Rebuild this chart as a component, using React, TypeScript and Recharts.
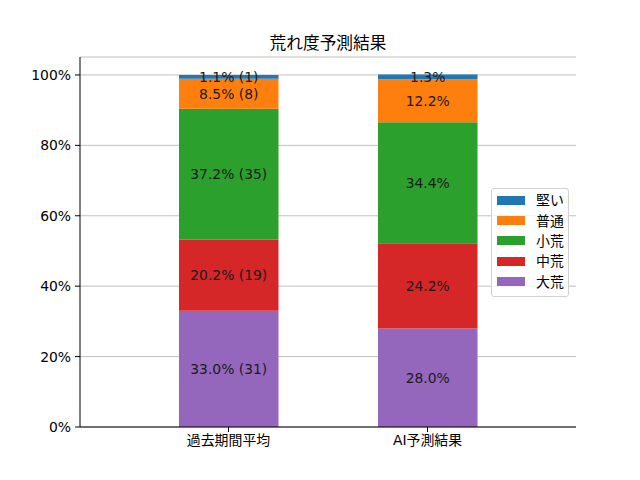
import React from 'react';
import { BarChart, Bar, XAxis, YAxis, CartesianGrid, Legend, LabelList } from 'recharts';

// categories and stacked series (percent), bottom to top
const categories = ['過去期間平均', 'AI予測結果'];
const seriesNames = ['大荒', '中荒', '小荒', '普通', '堅い'];
const seriesColors = ['#9467bd', '#d62728', '#2ca02c', '#ff7f0e', '#1f77b4'];
const ooare = [33.0, 28.0];
const chuare = [20.2, 24.2];
const shoare = [37.2, 34.4];
const futsu = [8.5, 12.2];
const katai = [1.1, 1.3];
// race counts, only shown for the past period
const pastCounts = [31, 19, 35, 8, 1];
const yTicks = [0, 20, 40, 60, 80, 100];

const seriesValues = [ooare, chuare, shoare, futsu, katai];

const data = categories.map((name, i) => {
  const row: Record<string, string | number> = { name };
  seriesNames.forEach((s, k) => {
    row[s] = seriesValues[k][i];
  });
  return row;
});

const FONT = '"DejaVu Sans", "Noto Sans CJK JP", sans-serif';

const makeLabel = (seriesIdx: number) => (props: any) => {
  const { x, y, width, height, index, value } = props;
  const text =
    index === 0
      ? `${Number(value).toFixed(1)}% (${pastCounts[seriesIdx]})`
      : `${Number(value).toFixed(1)}%`;
  return (
    <text
      x={x + width / 2}
      y={y + height / 2}
      textAnchor="middle"
      dominantBaseline="central"
      fontSize={13.9}
      fontFamily={FONT}
      fill="#1a1a1a"
    >
      {text}
    </text>
  );
};

const LegendBox = () => (
  <div
    style={{
      boxSizing: 'border-box',
      border: '1px solid #d0d0d0',
      borderRadius: 3,
      background: 'rgba(255,255,255,0.8)',
      padding: '1px 0 4px 5px',
      fontFamily: FONT,
      fontSize: 13.9,
      width: 78,
      whiteSpace: 'nowrap',
    }}
  >
    {seriesNames
      .map((s, k) => ({ s, c: seriesColors[k] }))
      .reverse()
      .map(({ s, c }) => (
        <div key={s} style={{ display: 'flex', alignItems: 'center', height: 20.4 }}>
          <span style={{ display: 'inline-block', flexShrink: 0, width: 28, height: 9, background: c, marginRight: 11 }} />
          <span style={{ whiteSpace: 'nowrap', lineHeight: '18px' }}>{s}</span>
        </div>
      ))}
  </div>
);

export default function App() {
  return (
    <div style={{ position: 'absolute', left: 0, top: 0, width: 640, height: 480, background: '#fff' }}>
      <div
        style={{
          position: 'absolute',
          left: 80,
          width: 496,
          top: 33,
          textAlign: 'center',
          fontFamily: FONT,
          fontSize: 16.7,
          lineHeight: '20px',
        }}
      >
        荒れ度予測結果
      </div>
      <BarChart
        width={640}
        height={480}
        data={data}
        margin={{ top: 57, right: 64, bottom: 23, left: 30 }}
        barCategoryGap={0}
      >
        <CartesianGrid vertical={false} stroke="#b0b0b0" strokeWidth={0.8} />
        <XAxis
          dataKey="name"
          height={30}
          padding={{ left: 49, right: 49 }}
          axisLine={{ stroke: '#000' }}
          tickLine={{ stroke: '#000' }}
          tickSize={5}
          tickMargin={3}
          tick={{ fill: '#000', fontSize: 13.9, fontFamily: FONT }}
        />
        <XAxis xAxisId="top" dataKey="name" orientation="top" height={0} tick={false} tickLine={false} axisLine={{ stroke: '#000' }} />
        <YAxis
          width={50}
          domain={[0, 105.1]}
          ticks={yTicks}
          tickFormatter={(v) => `${v}%`}
          axisLine={{ stroke: '#000' }}
          tickLine={{ stroke: '#000' }}
          tickSize={5}
          tickMargin={4}
          tick={{ fill: '#000', fontSize: 13.9, fontFamily: FONT }}
          allowDataOverflow
        />
        <YAxis yAxisId="right" orientation="right" width={0} tick={false} tickLine={false} axisLine={{ stroke: '#000' }} domain={[0, 105.1]} />
        <Legend
          layout="horizontal"
          verticalAlign="middle"
          align="center"
          content={() => <LegendBox />}
          wrapperStyle={{ left: 491, top: 188, width: 80, height: 110 }}
        />
        {seriesNames.map((s, k) => (
          <Bar key={s} dataKey={s} stackId="a" fill={seriesColors[k]} barSize={99.5} isAnimationActive={false}>
            <LabelList dataKey={s} content={makeLabel(k)} />
          </Bar>
        ))}
      </BarChart>
    </div>
  );
}
